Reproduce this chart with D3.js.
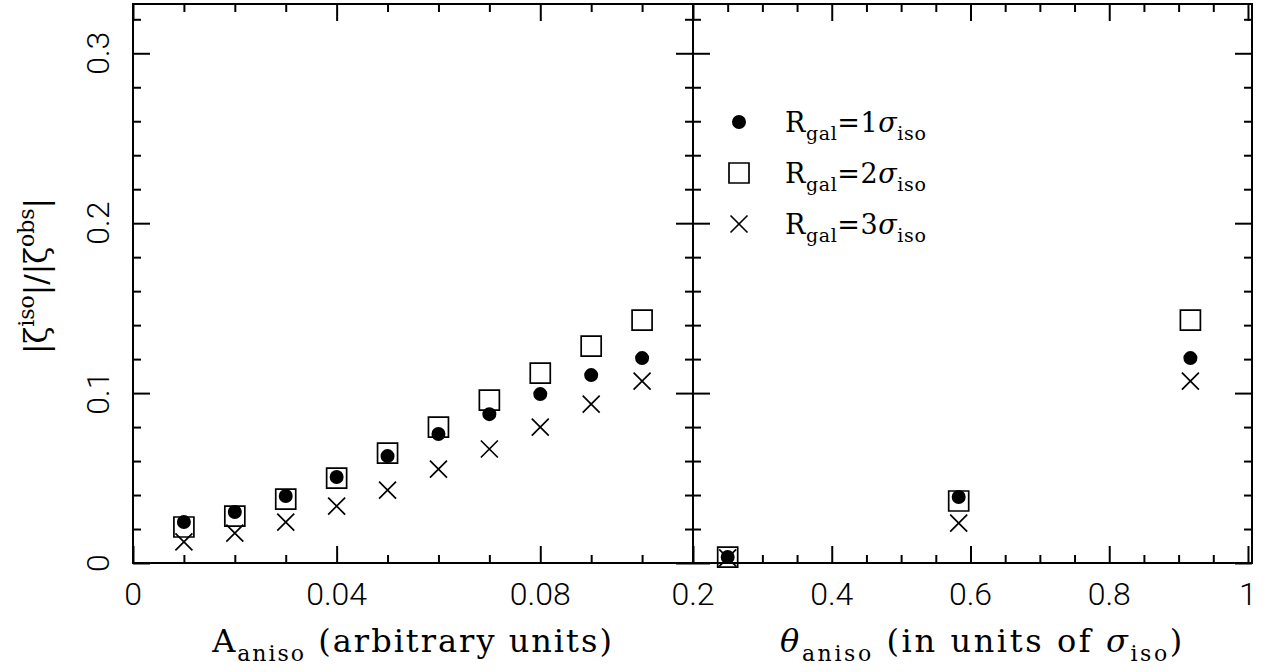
<!DOCTYPE html>
<html lang="en">
<head>
<meta charset="UTF-8">
<title>zeta iso / zeta obs</title>
<script src="https://cdn.jsdelivr.net/npm/d3@7"></script>
<style>
  body { margin: 0; background: #fff; }
  .tick line { stroke: #000; stroke-width: 2; }
  .ticklab { font-family: Roboto, "DejaVu Sans", sans-serif; font-weight: 300; font-size: 32px; fill: #000; }
  .lab { font-family: "DejaVu Serif", serif; fill: #000; }
</style>
</head>
<body>
<div id="chart"></div>
<script>
// left panel: ratio vs A_aniso, one series per R_gal
let aniso   = [0.01, 0.02, 0.03, 0.04, 0.05, 0.06, 0.07, 0.08, 0.09, 0.10];
let anisoR1 = [0.0241, 0.0300, 0.0394, 0.0506, 0.0629, 0.0759, 0.0876, 0.0994, 0.1106, 0.1206];
let anisoR2 = [0.0212, 0.0276, 0.0376, 0.0500, 0.0647, 0.0800, 0.0959, 0.1118, 0.1276, 0.1429];
let anisoR3 = [0.0124, 0.0176, 0.0241, 0.0335, 0.0429, 0.0553, 0.0671, 0.0800, 0.0935, 0.1070];

// right panel: ratio vs theta_aniso
let theta   = [0.25, 0.583, 0.917];
let thetaR1 = [0.0035, 0.0388, 0.1206];
let thetaR2 = [0.0035, 0.0365, 0.1429];
let thetaR3 = [0.0030, 0.0235, 0.1070];

let yTicks  = [0, 0.1, 0.2, 0.3];
let xTicksL = [0, 0.04, 0.08];
let xTicksR = [0.2, 0.4, 0.6, 0.8, 1];
let seriesNames = ["1", "2", "3"];

let width = 1271, height = 672;
let yTop = 4, yBot = 563, xa = 133, xb = 693, xc = 1252;

let svg = d3.select("#chart").append("svg")
  .attr("width", width)
  .attr("height", height);

let y  = d3.scaleLinear().domain([0, 0.329]).range([yBot, yTop]);
let xL = d3.scaleLinear().domain([0, 0.11]).range([xa, xb]);
let xR = d3.scaleLinear().domain([0.2, 1.0058]).range([xb, xc]);

let yMinor  = d3.range(0, 17).filter(i => i % 5 != 0).map(i => i * 0.02);
let xMinorL = d3.range(1, 11).filter(i => i % 4 != 0).map(i => i * 0.01);
let xMinorR = d3.range(5, 20).filter(i => i % 4 != 0).map(i => i * 0.05);

function tickSet(x, major, minor, left, right) {
  let g = svg.append("g");
  [[major, 17], [minor, 8]].forEach(([vals, len]) => {
    g.append("g").attr("transform", "translate(0," + yBot + ")")
      .call(d3.axisBottom(x).tickValues(vals).tickSize(-len).tickFormat(""));
    g.append("g").attr("transform", "translate(0," + yTop + ")")
      .call(d3.axisTop(x).tickValues(vals).tickSize(-len).tickFormat(""));
  });
  [[yTicks, 17], [yMinor, 8]].forEach(([vals, len]) => {
    g.append("g").attr("transform", "translate(" + left + ",0)")
      .call(d3.axisLeft(y).tickValues(vals).tickSize(-len).tickFormat(""));
    g.append("g").attr("transform", "translate(" + right + ",0)")
      .call(d3.axisRight(y).tickValues(vals).tickSize(-len).tickFormat(""));
  });
  g.selectAll(".domain").remove();
}

tickSet(xL, xTicksL, xMinorL, xa, xb);
tickSet(xR, xTicksR, xMinorR, xb, xc);

// frames
[[xa, xb], [xb, xc]].forEach(([a, b]) => {
  svg.append("rect")
    .attr("x", a).attr("y", yTop)
    .attr("width", b - a).attr("height", yBot - yTop)
    .attr("fill", "none").attr("stroke", "#000").attr("stroke-width", 2);
});

// tick labels
svg.selectAll("xlabL").data(xTicksL).enter().append("text")
  .attr("class", "ticklab")
  .attr("x", d => xL(d)).attr("y", 605)
  .attr("text-anchor", "middle")
  .text(d => d3.format("~g")(d));
svg.selectAll("xlabR").data(xTicksR).enter().append("text")
  .attr("class", "ticklab")
  .attr("x", d => xR(d)).attr("y", 605)
  .attr("text-anchor", "middle")
  .text(d => d3.format("~g")(d));
svg.selectAll("ylab").data(yTicks).enter().append("text")
  .attr("class", "ticklab")
  .attr("transform", d => "translate(109," + y(d) + ") rotate(-90)")
  .attr("text-anchor", "middle")
  .text(d => d3.format("~g")(d));

// markers
let circ  = d3.symbol().type(d3.symbolCircle).size(154);
let sq    = d3.symbol().type(d3.symbolSquare).size(400);
let cross = d3.symbol().type(d3.symbolTimes).size(190);

function points(x, xs, ys, sym, filled) {
  svg.append("g").selectAll("path")
    .data(xs.map((d, i) => [d, ys[i]]))
    .enter().append("path")
      .attr("d", sym)
      .attr("transform", d => "translate(" + x(d[0]) + "," + y(d[1]) + ")")
      .attr("fill", filled ? "#000" : "none")
      .attr("stroke", filled ? "none" : "#000")
      .attr("stroke-width", 1.7);
}

points(xL, aniso, anisoR2, sq, false);
points(xL, aniso, anisoR1, circ, true);
points(xL, aniso, anisoR3, cross, false);
points(xR, theta, thetaR2, sq, false);
points(xR, theta, thetaR1, circ, true);
points(xR, theta, thetaR3, cross, false);

// legend
let legSyms = [[circ, true], [sq, false], [cross, false]];
let leg = svg.append("g").attr("transform", "translate(739,122)");
seriesNames.forEach((n, i) => {
  leg.append("path")
    .attr("d", legSyms[i][0])
    .attr("transform", "translate(0," + (i * 51) + ")")
    .attr("fill", legSyms[i][1] ? "#000" : "none")
    .attr("stroke", legSyms[i][1] ? "none" : "#000")
    .attr("stroke-width", 1.7);
  let t = leg.append("text").attr("class", "lab")
    .attr("x", 46).attr("y", i * 51 + 10)
    .style("font-size", "27px").style("letter-spacing", "0.6px");
  t.append("tspan").text("R");
  t.append("tspan").attr("dy", 8).style("font-size", "19px").text("gal");
  t.append("tspan").attr("dy", -8).text("=" + n);
  t.append("tspan").style("font-style", "italic").text("σ");
  t.append("tspan").attr("dy", 8).style("font-size", "19px").text("iso");
});

// axis titles
let tl = svg.append("text").attr("class", "lab")
  .attr("x", (xa + xb) / 2).attr("y", 652)
  .attr("text-anchor", "middle")
  .style("font-size", "32px").style("letter-spacing", "2px");
tl.append("tspan").text("A");
tl.append("tspan").attr("dy", 9).style("font-size", "22px").text("aniso");
tl.append("tspan").attr("dy", -9).text(" (arbitrary units)");

let tr = svg.append("text").attr("class", "lab")
  .attr("x", (xb + xc) / 2 + 10).attr("y", 652)
  .attr("text-anchor", "middle")
  .style("font-size", "32px").style("letter-spacing", "2.6px");
tr.append("tspan").style("font-style", "italic").text("θ");
tr.append("tspan").attr("dy", 9).style("font-size", "22px").text("aniso");
tr.append("tspan").attr("dy", -9).text(" (in units of ");
tr.append("tspan").style("font-style", "italic").text("σ");
tr.append("tspan").attr("dy", 9).style("font-size", "22px").text("iso");
tr.append("tspan").attr("dy", -9).text(")");

let ty = svg.append("text").attr("class", "lab")
  .attr("transform", "translate(47,276) rotate(-90)")
  .attr("text-anchor", "middle").style("font-size", "31px");
ty.append("tspan").text("|ζ");
ty.append("tspan").attr("dy", -13).style("font-size", "22px").text("iso");
ty.append("tspan").attr("dy", 13).text("|/|ζ");
ty.append("tspan").attr("dy", -13).style("font-size", "22px").text("obs");
ty.append("tspan").attr("dy", 13).text("|");
</script>
</body>
</html>
